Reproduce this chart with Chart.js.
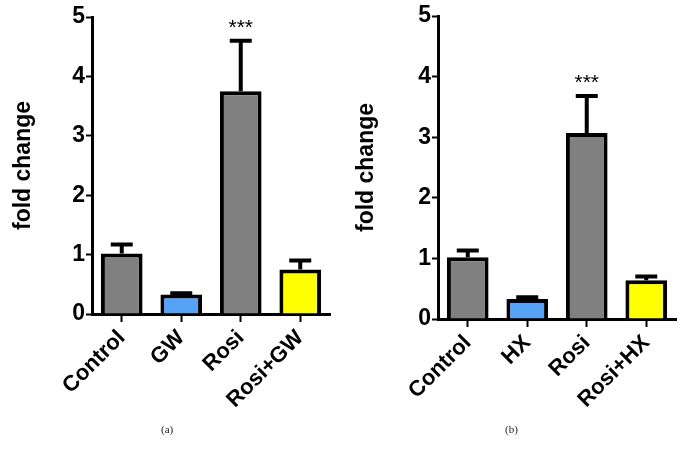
<!DOCTYPE html>
<html>
<head>
<meta charset="utf-8">
<script src="https://cdn.jsdelivr.net/npm/chart.js@4.4.1/dist/chart.umd.min.js"></script>
<style>
  body { margin: 0; background: #fff; }
  #wrap { position: relative; width: 686px; height: 452px; }
  .box { position: absolute; top: 0; width: 343px; height: 452px; }
  .cap { position: absolute; top: 423px; font: 11px "Liberation Serif", serif; color: #222; }
</style>
</head>
<body>
<div id="wrap">
  <div class="box" style="left:0"><canvas id="chA"></canvas></div>
  <div class="box" style="left:343px"><canvas id="chB"></canvas></div>
  <div class="cap" style="left:161px">(a)</div>
  <div class="cap" style="left:505px">(b)</div>
</div>
<script>
// data
var labelsA = ["Control", "GW", "Rosi", "Rosi+GW"];
var valuesA = [1.02, 0.33, 3.75, 0.75];
var errorsA = [1.17, 0.35, 4.6, 0.9];
var labelsB = ["Control", "HX", "Rosi", "Rosi+HX"];
var valuesB = [1.02, 0.33, 3.07, 0.64];
var errorsB = [1.13, 0.36, 3.68, 0.7];
var stars = ["", "", "***", ""];
var yTicks = [0, 1, 2, 3, 4, 5];

var barColors = ["#808080", "#55a2f7", "#808080", "#ffff00"];

// error bars + significance marks
var errorPlugin = {
  id: "errorBars",
  afterDatasetsDraw: function (chart, args, opts) {
    var ctx = chart.ctx;
    var meta = chart.getDatasetMeta(0);
    var y = chart.scales.y;
    ctx.save();
    ctx.strokeStyle = "#000";
    ctx.lineWidth = 4;
    meta.data.forEach(function (bar, i) {
      var top = y.getPixelForValue(opts.errors[i]);
      ctx.beginPath();
      ctx.moveTo(bar.x, bar.y);
      ctx.lineTo(bar.x, top);
      ctx.moveTo(bar.x - 11, top);
      ctx.lineTo(bar.x + 11, top);
      ctx.stroke();
      if (opts.stars[i]) {
        ctx.fillStyle = "#000";
        ctx.font = "21px 'Liberation Sans', Arial, sans-serif";
        ctx.textAlign = "center";
        ctx.textBaseline = "bottom";
        ctx.fillText(opts.stars[i], bar.x, top - 2);
      }
    });
    ctx.restore();
  }
};

function makeChart(id, labels, values, errors, yWidth, xHeight, padTop, padRight) {
  return new Chart(document.getElementById(id), {
    type: "bar",
    data: {
      labels: labels,
      datasets: [{
        data: values,
        backgroundColor: barColors,
        borderColor: "#000",
        borderWidth: 4,
        categoryPercentage: 0.7,
        barPercentage: 1
      }]
    },
    options: {
      responsive: true,
      maintainAspectRatio: false,
      animation: false,
      layout: { padding: { top: padTop, right: padRight, left: 10, bottom: 0 } },
      plugins: {
        legend: { display: false },
        tooltip: { enabled: false },
        errorBars: { errors: errors, stars: stars }
      },
      scales: {
        x: {
          afterFit: function (s) { s.height = xHeight; },
          grid: { display: true, offset: false, drawOnChartArea: false, tickLength: 8, tickWidth: 2, tickColor: "#000" },
          border: { color: "#000", width: 3 },
          ticks: {
            minRotation: 45, maxRotation: 45, color: "#000", padding: 3,
            font: { family: "'Liberation Sans', Arial, sans-serif", size: 22, weight: "bold" }
          }
        },
        y: {
          min: 0, max: 5,
          afterFit: function (s) { s.width = yWidth - 10; },
          afterBuildTicks: function (s) { s.ticks = yTicks.map(function (v) { return { value: v }; }); },
          grid: { display: true, drawOnChartArea: false, tickLength: 6, tickWidth: 2, tickColor: "#000" },
          border: { color: "#000", width: 3 },
          ticks: {
            color: "#000", padding: 1,
            font: { family: "'Liberation Sans', Arial, sans-serif", size: 23, weight: "bold" }
          },
          title: {
            display: true, text: "fold change", color: "#000", padding: { top: 0, bottom: 6 },
            font: { family: "'Liberation Sans', Arial, sans-serif", size: 23, weight: "bold" }
          }
        }
      }
    },
    plugins: [errorPlugin]
  });
}

makeChart("chA", labelsA, valuesA, errorsA, 92, 138, 17, 13);
makeChart("chB", labelsB, valuesB, errorsB, 95, 133, 16, 10);
</script>
</body>
</html>
